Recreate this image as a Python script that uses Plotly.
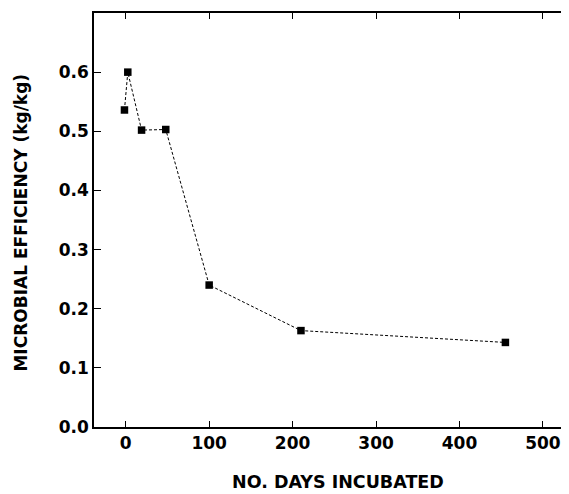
import plotly.graph_objects as go

days = [-1.5, 2.5, 19, 48, 100, 210, 455]
efficiency = [0.536, 0.600, 0.502, 0.503, 0.240, 0.163, 0.143]
x_ticks = [0, 100, 200, 300, 400, 500]
y_ticks = [0.0, 0.1, 0.2, 0.3, 0.4, 0.5, 0.6]
y_tick_labels = ["0.0", "0.1", "0.2", "0.3", "0.4", "0.5", "0.6"]

font_family = "DejaVu Sans, Verdana, sans-serif"

fig = go.Figure()
fig.add_trace(go.Scatter(
    x=days, y=efficiency, mode="lines+markers",
    line=dict(color="black", width=1, dash="3px,2px"),
    marker=dict(symbol="square", size=7.5, color="black"),
))

# page body has an 8px margin, so the figure is sized/offset to compensate
fig.update_layout(
    width=561, height=486,
    margin=dict(l=86, r=1, t=5, b=67),
    paper_bgcolor="white", plot_bgcolor="white",
    showlegend=False,
    font=dict(family=font_family, color="black"),
    xaxis=dict(
        range=[-38, 530], tickvals=x_ticks,
        ticks="inside", ticklen=6, tickwidth=1, tickcolor="black",
        showline=True, linecolor="black", linewidth=1.5, mirror="ticks",
        showgrid=False, zeroline=False, automargin=False,
        tickfont=dict(size=17, family=font_family, weight="bold"),
    ),
    yaxis=dict(
        range=[0, 0.7], tickvals=y_ticks, ticktext=y_tick_labels,
        ticks="inside", ticklen=7, tickwidth=1, tickcolor="black",
        showline=True, linecolor="black", linewidth=1.5, mirror="ticks",
        showgrid=False, zeroline=False, automargin=False,
        tickfont=dict(size=17, family=font_family, weight="bold"),
    ),
    annotations=[
        dict(text="<b>NO. DAYS INCUBATED</b>", xref="paper", yref="paper",
             x=0.514, y=-0.134, xanchor="center", yanchor="middle",
             showarrow=False, font=dict(size=17.5, family=font_family, color="black")),
        dict(text="<b>MICROBIAL EFFICIENCY (kg/kg)</b>", xref="paper", yref="paper",
             x=-0.153, y=0.495, xanchor="center", yanchor="middle", textangle=-90,
             showarrow=False, font=dict(size=17, family=font_family, color="black")),
    ],
)

fig.write_html("out.html")
